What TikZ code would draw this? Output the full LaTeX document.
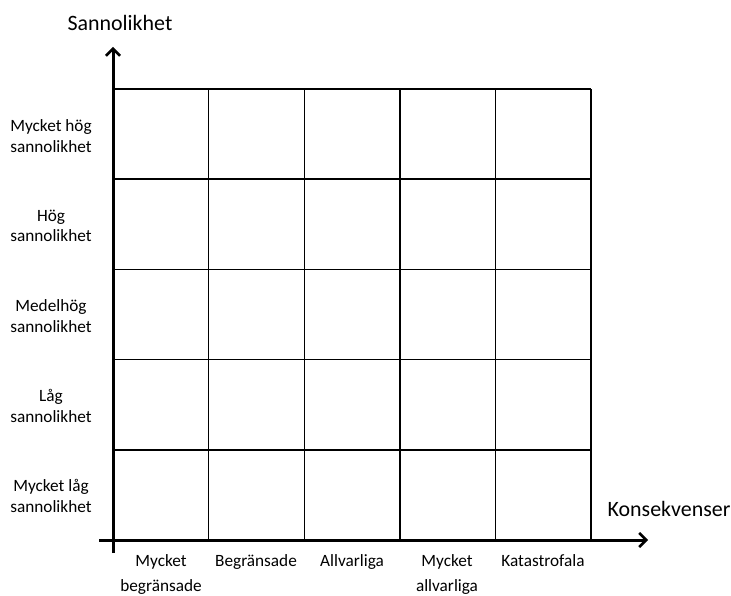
\documentclass[tikz,border=0pt]{standalone}
\usepackage{fontspec}
\setmainfont{Carlito}
\usetikzlibrary{arrows.meta}
\begin{document}
\begin{tikzpicture}[x=1bp,y=-1bp,
  grid/.style={line width=1.4bp,black},
  axis/.style={line width=3bp,black,-{Straight Barb[length=7bp,width=14bp,line width=2.5bp]}},
  rowlab/.style={align=center,font=\fontsize{17.3}{20.5}\selectfont},
  collab/.style={align=center,font=\fontsize{17.3}{25}\selectfont,anchor=north},
  title/.style={font=\fontsize{22}{26}\selectfont}]
\useasboundingbox (0,0) rectangle (731,596);
% grid
\foreach \i in {0,...,5} {
  \draw[grid] ({113+95.6*\i},89) -- ({113+95.6*\i},540);
  \draw[grid] (113,{89+90.2*\i}) -- (591,{89+90.2*\i});
}
% axes
\coordinate (ystart) at (113,553);
\coordinate (yend) at (113,47);
\coordinate (xstart) at (99,540);
\coordinate (xend) at (648,540);
\draw[axis] (ystart) -- (yend);
\draw[axis] (xstart) -- (xend);
% titles
\node[title] (ty) at (120,23) {Sannolikhet};
\node[title] (tx) at (669,509) {Konsekvenser};
% row labels
\node[rowlab] (r1) at (51,136) {Mycket hög\\sannolikhet};
\node[rowlab] (r2) at (51,226) {Hög\\sannolikhet};
\node[rowlab] (r3) at (51,316) {Medelhög\\sannolikhet};
\node[rowlab] (r4) at (51,406) {Låg\\sannolikhet};
\node[rowlab] (r5) at (51,496) {Mycket låg\\sannolikhet};
% column labels
\node[collab] (c1) at (161,551) {Mycket\\begränsade};
\node[collab] (c2) at (256,551) {Begränsade};
\node[collab] (c3) at (352,551) {Allvarliga};
\node[collab] (c4) at (447,551) {Mycket\\allvarliga};
\node[collab] (c5) at (543,551) {Katastrofala};
\end{tikzpicture}
\end{document}
